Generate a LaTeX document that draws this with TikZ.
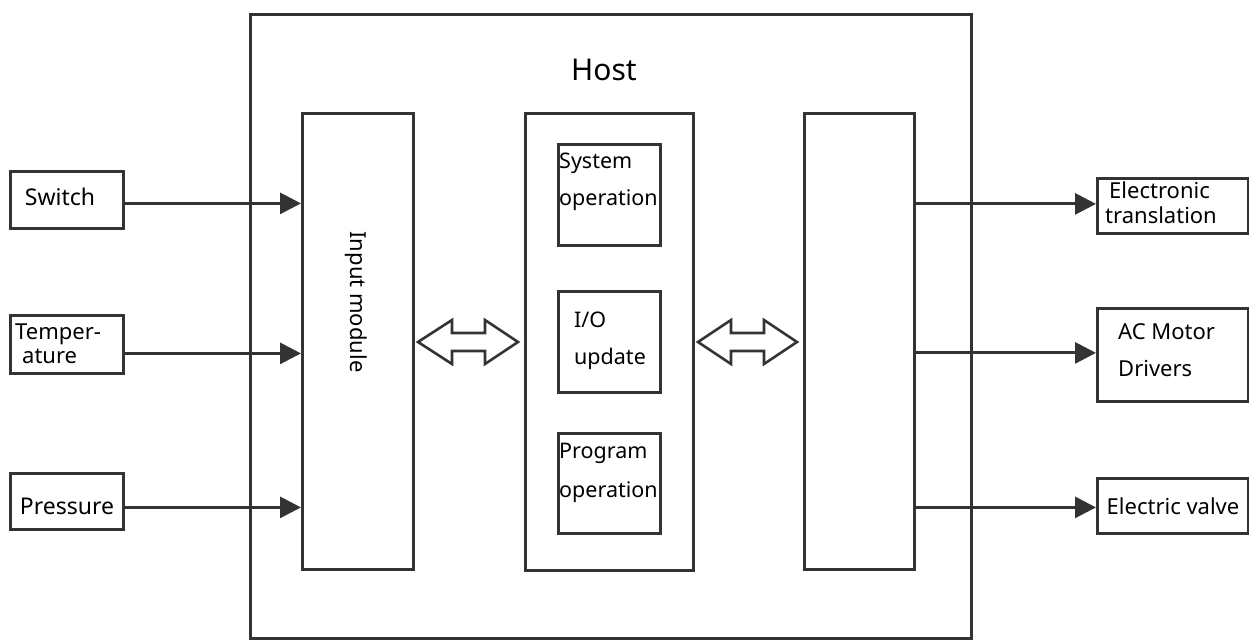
\documentclass[tikz,border=0pt]{standalone}
\usepackage{fontspec}
\setmainfont{Noto Sans}
\usetikzlibrary{arrows.meta}
\definecolor{ink}{HTML}{333333}
\begin{document}
\begin{tikzpicture}[x=1bp,y=-1bp,
  box/.style={draw=ink, line width=2.8bp, inner sep=0pt, anchor=north west},
  lbl/.style={font=\fontsize{22bp}{26bp}\selectfont, inner sep=0pt, text=black},
  flow/.style={draw=ink, line width=3bp, -{Triangle[length=21bp,width=21bp]}},
  bidir/.style={draw=ink, line width=2.6bp, line join=miter},
]
\useasboundingbox[fill=white] (0,0) rectangle (1249,642);

% host frame and its three inner blocks
\node[box, minimum width=721bp, minimum height=624bp] (host) at (249,13) {};
\node[lbl, font=\fontsize{30bp}{34bp}\selectfont] (hostlbl) at (604,70) {Host};
\node[box, minimum width=111bp, minimum height=456bp] (inmod) at (301,112) {};
\node[box, minimum width=168bp, minimum height=457bp] (core) at (524,112) {};
\node[box, minimum width=110bp, minimum height=456bp] (outmod) at (803,112) {};
\node[lbl, rotate=-90] (inmodlbl) at (356,302) {Input module};

% tasks inside the core block
\node[box, minimum width=102bp, minimum height=101bp] (sysop) at (557,143) {};
\node[box, minimum width=102bp, minimum height=101bp] (ioup) at (557,290) {};
\node[box, minimum width=102bp, minimum height=100bp] (progop) at (557,432) {};
\node[lbl, font=\fontsize{21.5bp}{37bp}\selectfont, align=left, anchor=west] (sysoplbl) at (559,182) {System\\operation};
\node[lbl, font=\fontsize{21.5bp}{37bp}\selectfont, align=left, anchor=west] (iouplbl) at (574,341) {I/O\\update};
\node[lbl, font=\fontsize{21.5bp}{39bp}\selectfont, align=left, anchor=west] (progoplbl) at (559,473) {Program\\operation};

% field inputs
\node[box, minimum width=113bp, minimum height=57bp] (sw) at (9,170) {};
\node[box, minimum width=113bp, minimum height=58bp] (temp) at (9,314) {};
\node[box, minimum width=113bp, minimum height=56bp] (pres) at (9,472) {};
\node[lbl, font=\fontsize{23bp}{26bp}\selectfont] (swlbl) at (60,197) {Switch};
\node[lbl, font=\fontsize{22bp}{24bp}\selectfont, align=left, anchor=west] (templbl) at (15,344) {Temper-\\\hspace*{7bp}ature};
\node[lbl, font=\fontsize{23bp}{26bp}\selectfont] (preslbl) at (67,506) {Pressure};

% field outputs
\node[box, minimum width=151bp, minimum height=55bp] (etrans) at (1096,177) {};
\node[box, minimum width=151bp, minimum height=93bp] (acm) at (1096,307) {};
\node[box, minimum width=151bp, minimum height=55bp] (evalve) at (1096,477) {};
\node[lbl, font=\fontsize{22bp}{25bp}\selectfont, align=left, anchor=west] (etranslbl) at (1105,203) {\hspace*{4bp}Electronic\\translation};
\node[lbl, font=\fontsize{22bp}{37bp}\selectfont, align=left, anchor=west] (acmlbl) at (1118,350) {AC Motor\\Drivers};
\node[lbl] (evalvelbl) at (1173,506) {Electric valve};

% input signals
\draw[flow] ([yshift=-3.5bp]sw.east) -- ([yshift=-3.5bp]sw.east -| inmod.west);
\draw[flow] ([yshift=-9bp]temp.east) -- ([yshift=-9bp]temp.east -| inmod.west);
\draw[flow] ([yshift=-6bp]pres.east) -- ([yshift=-6bp]pres.east -| inmod.west);

% output signals
\draw[flow] ([yshift=2bp]etrans.west -| outmod.east) -- ([yshift=2bp]etrans.west);
\draw[flow] ([yshift=2bp]acm.west -| outmod.east) -- ([yshift=2bp]acm.west);
\draw[flow] ([yshift=-1.5bp]evalve.west -| outmod.east) -- ([yshift=-1.5bp]evalve.west);

% data exchange between the blocks
\draw[bidir] (418,342) -- (452,320) -- (452,333) -- (485,333) -- (485,320) -- (518,342)
  -- (485,364) -- (485,351) -- (452,351) -- (452,364) -- cycle;
\draw[bidir] (698,342) -- (731,320) -- (731,333) -- (764,333) -- (764,320) -- (797,342)
  -- (764,364) -- (764,351) -- (731,351) -- (731,364) -- cycle;
\end{tikzpicture}
\end{document}
